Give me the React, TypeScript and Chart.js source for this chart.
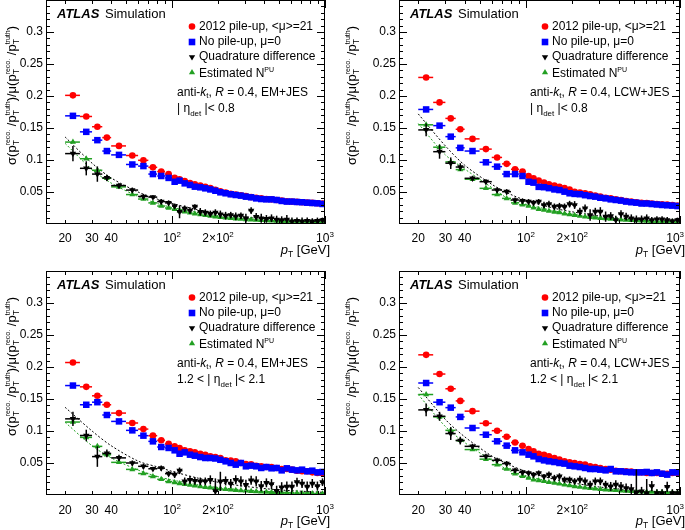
import React, { useEffect, useRef } from 'react';
import { Chart, registerables } from 'chart.js';
Chart.register(...registerables);

const FONT = '"Liberation Sans", Arial, Helvetica, sans-serif';

// pT bin centres and edges (GeV)
const ptCenters = [22.5, 27.5, 32.5, 37.5, 45, 55, 65, 75, 85, 95, 104, 112, 121, 131, 141, 153, 165, 178, 192, 207, 224, 242, 261, 282, 304, 329, 355, 383, 414, 447, 483, 521, 563, 608, 656, 708, 765, 826, 892, 963];
const ptEdges = [20, 25, 30, 35, 40, 50, 60, 70, 80, 90, 100, 108, 117, 126, 136, 147, 158, 171, 185, 200, 215, 233, 251, 271, 293, 316, 341, 369, 398, 430, 464, 501, 541, 584, 631, 681, 736, 794, 858, 926, 1000];
const fitPt = [20, 30, 40, 60, 80, 100, 150, 200, 300, 500, 1000];

const xTickValues = [20, 30, 40, 100, 200, 1000];
const xTickBase = ['20', '30', '40', '10', '2×10', '10'];
const xTickExp = ['', '', '', '2', '2', '3'];
const yTickValues = [0.05, 0.1, 0.15, 0.2, 0.25, 0.3];
const yTickLabels = ['0.05', '0.1', '0.15', '0.2', '0.25', '0.3'];

const legendLabels = ['2012 pile-up, <μ>=21', 'No pile-up, μ=0', 'Quadrature difference', 'Estimated N'];

// Top-left: EM+JES, |eta|<0.8
const tlRed = [0.201, 0.168, 0.152, 0.135, 0.122, 0.107, 0.0995, 0.0885, 0.082, 0.078, 0.072, 0.070, 0.067, 0.064, 0.062, 0.060, 0.058, 0.056, 0.0535, 0.051, 0.049, 0.047, 0.046, 0.045, 0.0435, 0.042, 0.041, 0.040, 0.039, 0.0385, 0.0375, 0.0365, 0.0355, 0.035, 0.0345, 0.034, 0.0335, 0.033, 0.0325, 0.032];
const tlBlue = [0.169, 0.144, 0.131, 0.114, 0.108, 0.093, 0.0905, 0.078, 0.075, 0.072, 0.066, 0.0677, 0.0635, 0.061, 0.0583, 0.0573, 0.0557, 0.054, 0.052, 0.0495, 0.048, 0.0464, 0.0453, 0.0443, 0.0427, 0.0417, 0.040, 0.039, 0.0385, 0.0385, 0.0375, 0.036, 0.035, 0.035, 0.0344, 0.034, 0.0333, 0.0328, 0.0323, 0.0313];
const tlBlack = [0.110, 0.087, 0.078, 0.072, 0.060, 0.053, 0.043, 0.042, 0.035, 0.033, 0.028, 0.019, 0.024, 0.021, 0.027, 0.019, 0.018, 0.016, 0.018, 0.015, 0.013, 0.014, 0.012, 0.013, 0.009, 0.021, 0.011, 0.009, 0.008, 0.009, 0.007, 0.006, 0.007, 0.004, 0.005, 0.004, 0.005, 0.004, 0.005, 0.006];
const tlBlackErr = [0.012, 0.011, 0.012, 0.005, 0.004, 0.004, 0.004, 0.003, 0.004, 0.004, 0.004, 0.010, 0.005, 0.005, 0.004, 0.006, 0.005, 0.005, 0.005, 0.006, 0.006, 0.005, 0.006, 0.005, 0.007, 0.005, 0.006, 0.007, 0.006, 0.006, 0.006, 0.006, 0.007, 0.006, 0.005, 0.006, 0.005, 0.005, 0.005, 0.004];
const tlGreen = [0.128, 0.102, 0.084, 0.0715, 0.058, 0.046, 0.039, 0.033, 0.028, 0.025, 0.023, 0.021, 0.019, 0.0175, 0.016, 0.0148, 0.0136, 0.0125, 0.0115, 0.0106, 0.0098, 0.009, 0.0083, 0.0077, 0.0071, 0.0066, 0.0061, 0.0057, 0.0053, 0.0049, 0.0046, 0.0043, 0.004, 0.0037, 0.0035, 0.0033, 0.0031, 0.0029, 0.0027, 0.0025];
const tlFitBlack = [0.136, 0.095, 0.072, 0.050, 0.039, 0.032, 0.022, 0.0165, 0.011, 0.0067, 0.0034];
const tlFitGreen = [0.126, 0.085, 0.064, 0.043, 0.032, 0.026, 0.0175, 0.013, 0.0088, 0.0053, 0.0027];

// Top-right: LCW+JES, |eta|<0.8
const trRed = [0.229, 0.190, 0.165, 0.148, 0.133, 0.117, 0.104, 0.094, 0.0855, 0.082, 0.075, 0.0713, 0.0677, 0.0646, 0.062, 0.060, 0.058, 0.056, 0.054, 0.0505, 0.049, 0.048, 0.0464, 0.0443, 0.0427, 0.041, 0.040, 0.0385, 0.0375, 0.036, 0.035, 0.034, 0.0333, 0.0328, 0.0318, 0.0313, 0.0307, 0.0302, 0.0297, 0.0287];
const trBlue = [0.179, 0.1537, 0.1365, 0.119, 0.114, 0.0964, 0.0896, 0.078, 0.078, 0.075, 0.066, 0.0646, 0.058, 0.0575, 0.056, 0.054, 0.053, 0.0505, 0.048, 0.047, 0.0465, 0.045, 0.0437, 0.0427, 0.041, 0.040, 0.0385, 0.0375, 0.0365, 0.035, 0.034, 0.0333, 0.032, 0.032, 0.0312, 0.0305, 0.0297, 0.0292, 0.0287, 0.028];
const trBlack = [0.147, 0.113, 0.095, 0.089, 0.0714, 0.0661, 0.0531, 0.0505, 0.0375, 0.036, 0.035, 0.0333, 0.035, 0.0297, 0.0312, 0.027, 0.028, 0.027, 0.0312, 0.0297, 0.0193, 0.0245, 0.014, 0.0193, 0.0193, 0.0115, 0.0125, 0.006, 0.0156, 0.0115, 0.009, 0.0073, 0.0073, 0.009, 0.006, 0.0073, 0.0073, 0.006, 0.0047, 0.006];
const trBlackErr = [0.010, 0.011, 0.009, 0.006, 0.004, 0.004, 0.004, 0.004, 0.004, 0.004, 0.004, 0.004, 0.004, 0.005, 0.005, 0.005, 0.005, 0.005, 0.005, 0.006, 0.006, 0.006, 0.009, 0.006, 0.007, 0.008, 0.006, 0.007, 0.006, 0.006, 0.006, 0.006, 0.006, 0.006, 0.005, 0.005, 0.005, 0.005, 0.004, 0.004];
const trGreen = [0.155, 0.120, 0.097, 0.085, 0.070, 0.0557, 0.046, 0.040, 0.033, 0.030, 0.028, 0.0255, 0.023, 0.022, 0.0203, 0.0188, 0.0178, 0.016, 0.015, 0.0135, 0.0125, 0.0115, 0.0104, 0.0099, 0.009, 0.0085, 0.0078, 0.0073, 0.0068, 0.0063, 0.0058, 0.0054, 0.005, 0.0047, 0.0044, 0.0041, 0.0039, 0.0037, 0.0035, 0.0033];
const trFitBlack = [0.172, 0.122, 0.092, 0.062, 0.046, 0.037, 0.025, 0.019, 0.0125, 0.0075, 0.0037];
const trFitGreen = [0.157, 0.108, 0.086, 0.057, 0.037, 0.031, 0.021, 0.0155, 0.0105, 0.0063, 0.0031];

// Bottom-left: EM+JES, 1.2<|eta|<2.1
const blRed = [0.207, 0.169, 0.155, 0.141, 0.128, 0.1125, 0.103, 0.0927, 0.0855, 0.080, 0.0761, 0.0734, 0.0698, 0.0682, 0.0666, 0.0645, 0.063, 0.0604, 0.0593, 0.0578, 0.0541, 0.054, 0.0526, 0.050, 0.0484, 0.048, 0.0458, 0.045, 0.0437, 0.0437, 0.0422, 0.0406, 0.0406, 0.0396, 0.038, 0.037, 0.037, 0.0354, 0.0344, 0.034];
const blBlue = [0.171, 0.141, 0.145, 0.125, 0.115, 0.101, 0.0927, 0.0838, 0.075, 0.0735, 0.0698, 0.0645, 0.0666, 0.063, 0.0614, 0.0593, 0.0578, 0.0578, 0.057, 0.055, 0.0526, 0.050, 0.0474, 0.050, 0.0448, 0.0458, 0.0448, 0.0422, 0.0437, 0.0417, 0.0422, 0.0385, 0.0417, 0.0396, 0.0385, 0.0396, 0.037, 0.038, 0.0354, 0.036];
const blBlack = [0.119, 0.093, 0.060, 0.065, 0.058, 0.050, 0.0448, 0.041, 0.042, 0.0333, 0.0318, 0.038, 0.0213, 0.0237, 0.022, 0.0213, 0.0213, 0.0237, 0.006, 0.0213, 0.022, 0.018, 0.0237, 0.0213, 0.016, 0.023, 0.0213, 0.014, 0.019, 0.017, 0.0065, 0.012, 0.013, 0.013, 0.020, 0.018, 0.013, 0.018, 0.014, 0.020];
const blBlackErr = [0.011, 0.009, 0.016, 0.006, 0.005, 0.004, 0.004, 0.003, 0.004, 0.004, 0.005, 0.005, 0.006, 0.006, 0.006, 0.006, 0.006, 0.007, 0.020, 0.015, 0.007, 0.007, 0.007, 0.008, 0.008, 0.007, 0.008, 0.008, 0.007, 0.008, 0.008, 0.008, 0.008, 0.008, 0.007, 0.007, 0.008, 0.007, 0.007, 0.006];
const blGreen = [0.114, 0.090, 0.076, 0.063, 0.051, 0.040, 0.0335, 0.029, 0.0245, 0.021, 0.0195, 0.018, 0.0168, 0.0155, 0.0143, 0.0132, 0.0122, 0.0112, 0.0104, 0.0096, 0.0088, 0.0082, 0.0076, 0.007, 0.0065, 0.006, 0.0055, 0.0051, 0.0047, 0.0044, 0.0041, 0.0038, 0.0035, 0.0033, 0.003, 0.0028, 0.0026, 0.0024, 0.0022, 0.0021];
const blFitBlack = [0.137, 0.100, 0.077, 0.053, 0.044, 0.037, 0.026, 0.020, 0.0135, 0.008, 0.004];
const blFitGreen = [0.1135, 0.077, 0.058, 0.039, 0.029, 0.0235, 0.0157, 0.0118, 0.0079, 0.0047, 0.0024];

// Bottom-right: LCW+JES, 1.2<|eta|<2.1
const brRed = [0.219, 0.189, 0.166, 0.147, 0.131, 0.112, 0.1005, 0.091, 0.082, 0.077, 0.0719, 0.0682, 0.0645, 0.063, 0.0604, 0.0578, 0.0552, 0.0526, 0.051, 0.050, 0.0484, 0.0474, 0.0448, 0.0437, 0.0422, 0.0406, 0.0396, 0.038, 0.037, 0.037, 0.0365, 0.0354, 0.0354, 0.0344, 0.0344, 0.0344, 0.0333, 0.0333, 0.0344, 0.0344];
const brBlue = [0.175, 0.145, 0.1365, 0.122, 0.1047, 0.0942, 0.0839, 0.0771, 0.0698, 0.0667, 0.063, 0.0604, 0.0562, 0.0541, 0.0526, 0.0515, 0.050, 0.049, 0.0458, 0.0448, 0.0437, 0.0422, 0.0406, 0.0406, 0.0396, 0.0385, 0.0406, 0.037, 0.037, 0.036, 0.0354, 0.0354, 0.0354, 0.036, 0.0344, 0.0354, 0.0333, 0.0318, 0.0354, 0.0354];
const brBlack = [0.133, 0.123, 0.096, 0.085, 0.076, 0.0604, 0.0542, 0.049, 0.0385, 0.0354, 0.0344, 0.0317, 0.0344, 0.029, 0.0317, 0.0265, 0.029, 0.0239, 0.0239, 0.0213, 0.0239, 0.0213, 0.0161, 0.0213, 0.0213, 0.0161, 0.0134, 0.0161, 0.0134, 0.0109, 0.0093, 0.004, 0.0057, 0.003, 0.014, 0.003, 0.003, 0.0126, 0.003, 0.003];
const brBlackErr = [0.010, 0.007, 0.010, 0.006, 0.004, 0.004, 0.004, 0.004, 0.004, 0.004, 0.004, 0.004, 0.004, 0.004, 0.005, 0.005, 0.005, 0.005, 0.005, 0.005, 0.006, 0.006, 0.006, 0.006, 0.006, 0.006, 0.007, 0.007, 0.007, 0.007, 0.008, 0.036, 0.007, 0.022, 0.008, 0.006, 0.006, 0.008, 0.006, 0.006];
const brGreen = [0.157, 0.122, 0.101, 0.0854, 0.071, 0.056, 0.0474, 0.0406, 0.0333, 0.0292, 0.0265, 0.0239, 0.0226, 0.0213, 0.020, 0.0187, 0.0174, 0.0161, 0.0148, 0.0134, 0.0124, 0.0114, 0.0104, 0.0099, 0.0088, 0.0083, 0.0078, 0.0073, 0.0068, 0.0063, 0.0058, 0.0055, 0.0052, 0.0049, 0.0046, 0.0044, 0.0042, 0.004, 0.0038, 0.0036];
const brFitBlack = [0.168, 0.118, 0.091, 0.061, 0.046, 0.037, 0.025, 0.019, 0.0125, 0.0075, 0.0037];
const brFitGreen = [0.157, 0.107, 0.082, 0.054, 0.037, 0.030, 0.020, 0.015, 0.010, 0.006, 0.003];

const RED = '#ff0000';
const BLUE = '#0000ff';
const BLACK = '#000000';
const GREEN = '#22a022';

type PanelCfg = {
  id: string; left: number; top: number; w: number; h: number;
  yAxisW: number; xAxisH: number; padTop: number; padRight: number; tickOff: number;
  red: number[]; blue: number[]; black: number[]; blackErr: number[]; green: number[];
  fitBlack: number[]; fitGreen: number[];
  calib: string; etaLo: string | null; etaHi: string;
};

const panels: PanelCfg[] = [
  { id: 'tl', left: 0, top: 0, w: 340, h: 265, yAxisW: 46, xAxisH: 41, padTop: 0, padRight: 15, tickOff: 13.5,
    red: tlRed, blue: tlBlue, black: tlBlack, blackErr: tlBlackErr, green: tlGreen, fitBlack: tlFitBlack, fitGreen: tlFitGreen,
    calib: 'EM+JES', etaLo: null, etaHi: '0.8' },
  { id: 'tr', left: 340, top: 0, w: 345, h: 265, yAxisW: 59, xAxisH: 41, padTop: 0, padRight: 5, tickOff: 13.5,
    red: trRed, blue: trBlue, black: trBlack, blackErr: trBlackErr, green: trGreen, fitBlack: trFitBlack, fitGreen: trFitGreen,
    calib: 'LCW+JES', etaLo: null, etaHi: '0.8' },
  { id: 'bl', left: 0, top: 265, w: 340, h: 265, yAxisW: 46, xAxisH: 35, padTop: 6, padRight: 15, tickOff: 15,
    red: blRed, blue: blBlue, black: blBlack, blackErr: blBlackErr, green: blGreen, fitBlack: blFitBlack, fitGreen: blFitGreen,
    calib: 'EM+JES', etaLo: '1.2', etaHi: '2.1' },
  { id: 'br', left: 340, top: 265, w: 345, h: 265, yAxisW: 59, xAxisH: 35, padTop: 6, padRight: 5, tickOff: 15,
    red: brRed, blue: brBlue, black: brBlack, blackErr: brBlackErr, green: brGreen, fitBlack: brFitBlack, fitGreen: brFitGreen,
    calib: 'LCW+JES', etaLo: '1.2', etaHi: '2.1' },
];

type Seg = { t: string; size: number; italic?: boolean; bold?: boolean; dy?: number; stack?: boolean };

function segFont(s: Seg) {
  return `${s.italic ? 'italic ' : ''}${s.bold ? 'bold ' : ''}${s.size}px ${FONT}`;
}

function richWidth(ctx: CanvasRenderingContext2D, segs: Seg[]) {
  let w = 0; let pend = 0;
  for (const s of segs) {
    ctx.font = segFont(s);
    const sw = ctx.measureText(s.t).width;
    if (s.stack) { pend = Math.max(pend, sw); continue; }
    w += Math.max(sw, pend); pend = 0;
  }
  return w + pend;
}

function drawRich(ctx: CanvasRenderingContext2D, x: number, y: number, segs: Seg[]) {
  let cx = x; let pend = 0;
  ctx.textBaseline = 'alphabetic';
  ctx.textAlign = 'left';
  for (const s of segs) {
    ctx.font = segFont(s);
    const sw = ctx.measureText(s.t).width;
    ctx.fillText(s.t, cx, y + (s.dy || 0));
    if (s.stack) { pend = Math.max(pend, sw); continue; }
    cx += Math.max(sw, pend); pend = 0;
  }
}

function drawMarker(ctx: CanvasRenderingContext2D, kind: string, x: number, y: number, color: string) {
  ctx.fillStyle = color;
  ctx.beginPath();
  if (kind === 'circle') {
    ctx.arc(x, y, 3.3, 0, Math.PI * 2);
  } else if (kind === 'square') {
    ctx.rect(x - 3.3, y - 3.3, 6.6, 6.6);
  } else if (kind === 'down') {
    ctx.moveTo(x - 3.2, y - 1.8); ctx.lineTo(x + 3.2, y - 1.8); ctx.lineTo(x, y + 3.6); ctx.closePath();
  } else {
    ctx.moveTo(x - 3.1, y + 1.7); ctx.lineTo(x + 3.1, y + 1.7); ctx.lineTo(x, y - 3.4); ctx.closePath();
  }
  ctx.fill();
}

const decoPlugin = {
  id: 'atlasDeco',
  beforeDatasetDraw(chart: any, args: any) {
    const ds = chart.data.datasets[args.index];
    if (!ds.errX) return;
    const { ctx, chartArea: a } = chart;
    const xs = chart.scales.x; const ys = chart.scales.y;
    ctx.save();
    ctx.beginPath(); ctx.rect(a.left, a.top, a.right - a.left, a.bottom - a.top); ctx.clip();
    ctx.strokeStyle = ds.pointBackgroundColor;
    ctx.lineWidth = 1.5;
    ds.data.forEach((p: any, i: number) => {
      const py = ys.getPixelForValue(p.y);
      const x0 = xs.getPixelForValue(ptEdges[i]);
      const x1 = xs.getPixelForValue(ptEdges[i + 1]);
      ctx.beginPath(); ctx.moveTo(x0, py); ctx.lineTo(x1, py); ctx.stroke();
      if (ds.yErr) {
        const px = xs.getPixelForValue(p.x);
        const e = ds.yErr[i];
        ctx.beginPath();
        ctx.moveTo(px, ys.getPixelForValue(p.y - e));
        ctx.lineTo(px, ys.getPixelForValue(p.y + e));
        ctx.stroke();
      }
    });
    ctx.restore();
  },
  afterDraw(chart: any) {
    const cfg: PanelCfg = chart.options.plugins.atlasDeco.cfg;
    const { ctx, chartArea: a } = chart;
    const xs = chart.scales.x; const ys = chart.scales.y;
    ctx.save();
    // frame
    ctx.strokeStyle = '#000'; ctx.lineWidth = 1;
    ctx.strokeRect(a.left + 0.5, a.top + 0.5, a.right - a.left - 1, a.bottom - a.top - 1);
    ctx.beginPath();
    for (let k = 1; k < 35; k++) {
      const py = Math.round(ys.getPixelForValue(k / 100)) + 0.5;
      const len = k % 5 === 0 ? 8 : 4;
      ctx.moveTo(a.left, py); ctx.lineTo(a.left + len, py);
      ctx.moveTo(a.right, py); ctx.lineTo(a.right - len, py);
    }
    const xt: number[] = [];
    for (let v = 20; v < 100; v += 10) xt.push(v);
    for (let v = 100; v <= 1000; v += 100) xt.push(v);
    for (const v of xt) {
      const px = Math.round(xs.getPixelForValue(v)) + 0.5;
      const len = v === 100 || v === 1000 ? 8 : 4;
      ctx.moveTo(px, a.bottom); ctx.lineTo(px, a.bottom - len);
      ctx.moveTo(px, a.top); ctx.lineTo(px, a.top + len);
    }
    ctx.stroke();

    ctx.fillStyle = '#000';
    // x tick labels
    xTickValues.forEach((v, i) => {
      const segs: Seg[] = [{ t: xTickBase[i], size: 12 }];
      if (xTickExp[i]) segs.push({ t: xTickExp[i], size: 8, dy: -5 });
      const w = richWidth(ctx, segs);
      let x0 = xs.getPixelForValue(v) - w / 2;
      if (x0 + w > chart.width - 1) x0 = chart.width - 1 - w;
      drawRich(ctx, x0, a.bottom + cfg.tickOff + 4.3, segs);
    });

    const L = a.left; const T = a.top;
    // ATLAS Simulation
    ctx.textBaseline = 'middle'; ctx.textAlign = 'left';
    ctx.font = `italic bold 13px ${FONT}`;
    ctx.fillText('ATLAS', L + 11, T + 14);
    ctx.font = `13px ${FONT}`;
    ctx.fillText('Simulation', L + 59, T + 14);

    // legend
    const rows = [26.5, 42, 57, 72.5];
    const kinds = ['circle', 'square', 'down', 'up'];
    const cols = [RED, BLUE, BLACK, GREEN];
    rows.forEach((ry, i) => {
      drawMarker(ctx, kinds[i], L + 146, T + ry, cols[i]);
      ctx.fillStyle = '#000';
      if (i < 3) {
        ctx.font = `12px ${FONT}`; ctx.textBaseline = 'middle'; ctx.textAlign = 'left';
        ctx.fillText(legendLabels[i], L + 153, T + ry);
      } else {
        drawRich(ctx, L + 153, T + ry + 4.3, [{ t: legendLabels[3], size: 12 }, { t: 'PU', size: 7, dy: -5 }]);
      }
    });

    // annotation
    drawRich(ctx, L + 131, T + 95.5, [
      { t: 'anti-', size: 12 }, { t: 'k', size: 12, italic: true }, { t: 't', size: 8, dy: 2.5 },
      { t: ', ', size: 12 }, { t: 'R', size: 12, italic: true }, { t: ' = 0.4, ' + cfg.calib, size: 12 },
    ]);
    const etaSegs: Seg[] = [];
    if (cfg.etaLo) etaSegs.push({ t: cfg.etaLo + ' < ', size: 12 });
    etaSegs.push({ t: '| η', size: 12 }, { t: 'det', size: 8, dy: 3.5 }, { t: ' |< ' + cfg.etaHi, size: 12 });
    drawRich(ctx, L + 131, T + 112, etaSegs);

    // x title
    const xSegs: Seg[] = [{ t: 'p', size: 13, italic: true }, { t: 'T', size: 8.5, dy: 3 }, { t: ' [GeV]', size: 13 }];
    const xw = richWidth(ctx, xSegs);
    drawRich(ctx, a.right + 5 - xw, a.bottom + 30, xSegs);

    // y title (rotated)
    const ySegs: Seg[] = [
      { t: 'σ(p', size: 13 }, { t: 'T', size: 8.5, dy: 3, stack: true }, { t: 'reco.', size: 7, dy: -6 },
      { t: ' /p', size: 13 }, { t: 'T', size: 8.5, dy: 3, stack: true }, { t: 'truth', size: 7, dy: -6 },
      { t: ')/μ(p', size: 13 }, { t: 'T', size: 8.5, dy: 3, stack: true }, { t: 'reco.', size: 7, dy: -6 },
      { t: ' /p', size: 13 }, { t: 'T', size: 8.5, dy: 3, stack: true }, { t: 'truth', size: 7, dy: -6 },
      { t: ')', size: 13 },
    ];
    const yw = richWidth(ctx, ySegs);
    ctx.translate(15.5, T + 26 + yw);
    ctx.rotate(-Math.PI / 2);
    drawRich(ctx, 0, 0, ySegs);
    ctx.restore();
  },
};

function toPts(xv: number[], yv: number[]) {
  return yv.map((v, i) => ({ x: xv[i], y: v }));
}

function makeConfig(p: PanelCfg): any {
  const marker = (data: number[], color: string, style: string, radius: number, extra: any = {}) => ({
    data: toPts(ptCenters, data), showLine: false, pointStyle: style, pointRadius: radius,
    pointBackgroundColor: color, pointBorderColor: color, pointBorderWidth: 0, borderColor: color,
    backgroundColor: color, errX: true, ...extra,
  });
  const fit = (data: number[], color: string) => ({
    data: toPts(fitPt, data), showLine: true, pointRadius: 0, borderColor: color, borderWidth: 1,
    borderDash: [2, 2], fill: false, tension: 0.3,
  });
  return {
    type: 'scatter',
    data: {
      datasets: [
        { label: legendLabels[2], ...marker(p.black, BLACK, 'triangle', 3.7, { pointRotation: 180, yErr: p.blackErr }) },
        { label: legendLabels[3], ...marker(p.green, GREEN, 'triangle', 3.5) },
        { label: legendLabels[1], ...marker(p.blue, BLUE, 'rect', 4.6) },
        { label: legendLabels[0], ...marker(p.red, RED, 'circle', 3.3) },
        { label: 'fit quad', ...fit(p.fitBlack, BLACK) },
        { label: 'fit NPU', ...fit(p.fitGreen, GREEN) },
      ],
    },
    options: {
      responsive: false,
      animation: false,
      devicePixelRatio: 1,
      events: [],
      layout: { autoPadding: false, padding: { left: 0, top: p.padTop, right: p.padRight, bottom: 0 } },
      plugins: { legend: { display: false }, tooltip: { enabled: false }, atlasDeco: { cfg: p } },
      scales: {
        x: {
          type: 'logarithmic', min: 15, max: 1000,
          grid: { display: false, drawTicks: false }, border: { display: false },
          afterBuildTicks: (s: any) => { s.ticks = xTickValues.map((v) => ({ value: v })); },
          ticks: { display: false },
          afterFit: (s: any) => { s.height = p.xAxisH; s.paddingLeft = 0; s.paddingRight = 0; },
        },
        y: {
          type: 'linear', min: 0, max: 0.35,
          grid: { display: false, drawTicks: false }, border: { display: false },
          afterBuildTicks: (s: any) => { s.ticks = yTickValues.map((v) => ({ value: v })); },
          ticks: {
            padding: 3, color: '#000', font: { family: FONT, size: 12 },
            callback: (_v: any, i: number) => yTickLabels[i],
          },
          afterFit: (s: any) => { s.width = p.yAxisW; s.paddingTop = 0; s.paddingBottom = 0; },
        },
      },
    },
    plugins: [decoPlugin],
  };
}

function Panel({ cfg }: { cfg: PanelCfg }) {
  const ref = useRef<HTMLCanvasElement>(null);
  useEffect(() => {
    if (!ref.current) return;
    const chart = new Chart(ref.current, makeConfig(cfg));
    return () => chart.destroy();
  }, [cfg]);
  return (
    <canvas
      ref={ref}
      width={cfg.w}
      height={cfg.h}
      style={{ position: 'absolute', left: cfg.left, top: cfg.top, width: cfg.w, height: cfg.h }}
    />
  );
}

export default function App() {
  return (
    <div style={{ position: 'absolute', left: 0, top: 0, width: 685, height: 530, background: '#fff' }}>
      {panels.map((p) => <Panel key={p.id} cfg={p} />)}
    </div>
  );
}
